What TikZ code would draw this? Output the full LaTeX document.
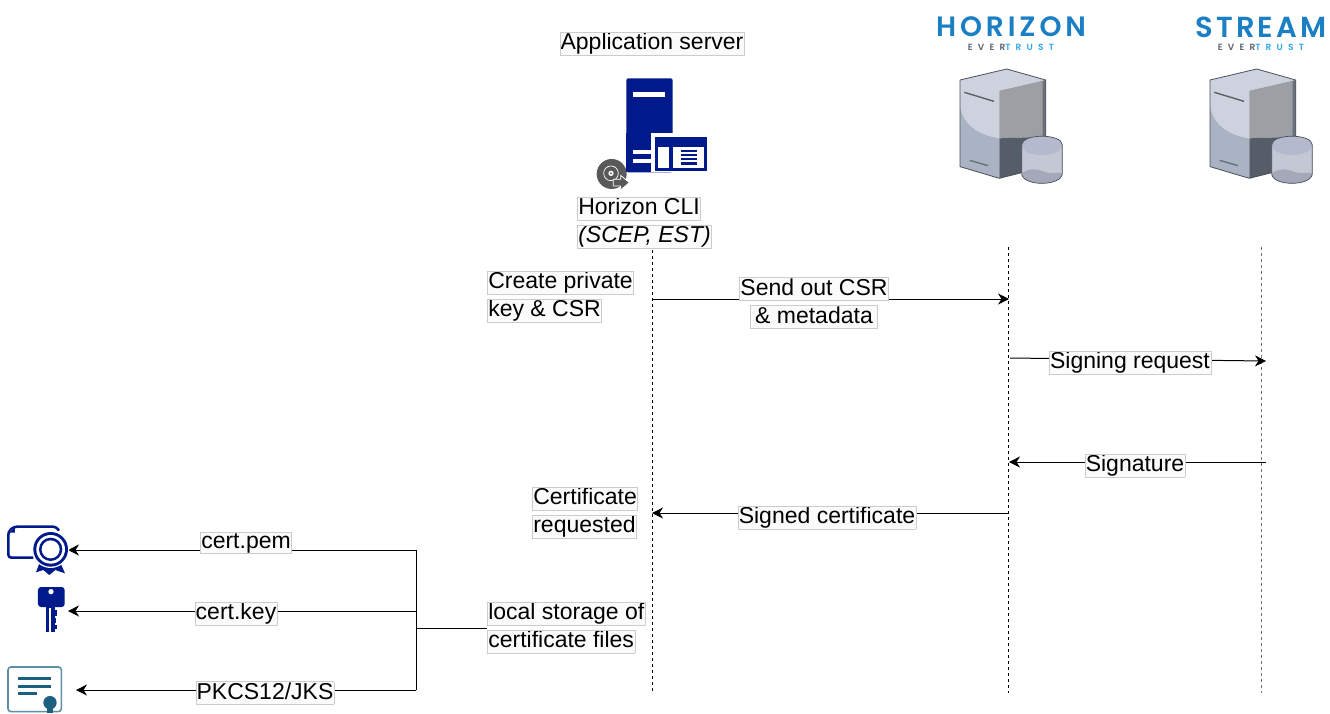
\documentclass[tikz,border=0pt]{standalone}
\usepackage{fontspec}
\usetikzlibrary{arrows.meta}
\setmainfont{Liberation Sans}
\newfontfamily\logofont[LetterSpace=14]{Poppins SemiBold}
\newfontfamily\logofontb[LetterSpace=11]{Poppins SemiBold}
\newfontfamily\subfont[LetterSpace=58]{Poppins SemiBold}
\definecolor{navy}{HTML}{001A8C}
\definecolor{logoblue}{HTML}{1B7FC4}
\definecolor{logolight}{HTML}{2FA8E8}
\definecolor{logogray}{HTML}{5A6570}
\definecolor{teal}{HTML}{1C5F80}
\definecolor{tealedge}{HTML}{5C8FA8}
\definecolor{lblfill}{HTML}{FBFBFB}
\definecolor{lbledge}{HTML}{CCCCCC}
\definecolor{sfront}{HTML}{A9B3C4}
\definecolor{slight}{HTML}{CDD2DE}
\definecolor{sside}{HTML}{9C9FA3}
\definecolor{sdark}{HTML}{555E68}
\definecolor{sstrip}{HTML}{6A7078}
\definecolor{sline}{HTML}{4A4F58}
\definecolor{sbar}{HTML}{5A6068}
\definecolor{cbody}{HTML}{C3C8D4}
\definecolor{ctop}{HTML}{B4B9CD}
\definecolor{cbot}{HTML}{A4A8B8}
\setlength{\fboxsep}{0.6pt}
\setlength{\fboxrule}{0.5pt}
\newcommand{\hl}[1]{\fcolorbox{lbledge}{lblfill}{\rule[-4.5pt]{0pt}{18.5pt}#1}}
\tikzset{
  x=1pt,y=-1pt,
  lbl/.style={inner sep=0pt,font=\fontsize{23}{28}\selectfont,align=left,text=black},
  life/.style={draw=black,line width=0.7pt,dash pattern=on 3pt off 3pt},
  lifegray/.style={life,draw=black!55,line width=0.9pt},
  msg/.style={draw=black,line width=1pt,-{Stealth[length=11pt,width=11pt,inset=3.5pt]}},
  plain/.style={draw=black,line width=1pt},
  server/.pic={
    \begin{scope}[x=0.3333pt,y=-0.3333pt]
      \fill[sfront] (180,240) -- (298,272) -- (298,535) -- (180,500) -- cycle;
      \fill[slight] (180,240) -- (298,272) -- (298,415) .. controls (230,405) and (190,370) .. (180,320) -- cycle;
      \fill[slight] (180,240) -- (320,207) -- (437,240) -- (298,272) -- cycle;
      \fill[sside] (298,272) -- (437,240) -- (437,410) -- (298,415) -- cycle;
      \fill[sdark] (298,415) -- (437,410) -- (437,500) -- (298,535) -- cycle;
      \fill[sstrip] (428,243) -- (437,240) -- (437,410) -- (428,410) -- cycle;
      \draw[line width=0.8pt,draw=sline,line join=round] (180,240) -- (320,207) -- (437,240) -- (437,500) -- (298,535) -- (180,500) -- cycle;
      \draw[line width=1.4pt,draw=sbar] (193,277) -- (282,304);
      \draw[line width=1.4pt,draw=sstrip] (209,481) -- (264,497);
      \fill[cbody] (365,435) .. controls (365,400) and (487,400) .. (487,435) -- (487,520) .. controls (487,560) and (365,560) .. (365,520) -- cycle;
      \fill[ctop] (365,435) .. controls (365,400) and (487,400) .. (487,435) .. controls (487,475) and (365,475) .. (365,435) -- cycle;
      \fill[cbot] (365,520) .. controls (390,500) and (420,510) .. (440,518) .. controls (460,522) and (480,515) .. (487,520) .. controls (487,560) and (365,560) .. (365,520) -- cycle;
      \draw[line width=0.7pt,draw=sline] (365,435) .. controls (365,400) and (487,400) .. (487,435) -- (487,520) .. controls (487,560) and (365,560) .. (365,520) -- cycle;
    \end{scope}
  }
}
\begin{document}
\begin{tikzpicture}
\useasboundingbox (0,0) rectangle (1330,713);
\fill[white] (0,0) rectangle (1330,713);

% titles
\node[lbl,anchor=center] (appserver) at (652,44) {\hl{Application server}};

% application server icon
\begin{scope}[shift={(550,0)},x=0.3333pt,y=-0.3333pt]
  \fill[navy,rounded corners=2pt] (229,235) rectangle (368,517);
  \fill[white] (250,276) rectangle (346,291);
  \fill[white] (304,400) rectangle (368,517);
  \fill[navy] (229,400) rectangle (304,517);
  \fill[white] (250,450) rectangle (304,463);
  \fill[white] (250,477) rectangle (304,490);
  \fill[navy] (316,410) rectangle (472,514);
  \fill[white] (325,440) rectangle (358,505);
  \fill[white] (368,440) rectangle (462,505);
  \fill[navy] (392,449) rectangle (441,457);
  \fill[navy] (392,461) rectangle (441,469);
  \fill[navy] (392,473) rectangle (441,481);
  \fill[navy] (392,485) rectangle (441,495);
  % CD glyph
  \fill[black!65] (185,522) circle[radius=45];
  \draw[white,line width=0.7pt] (183,520) circle[radius=22];
  \fill[white] (183,520) circle[radius=8];
  \fill[black!65] (183,520) circle[radius=3];
  \draw[white,fill=black!65,line width=0.8pt,line join=round] (190,538) -- (212,538) -- (212,526) -- (238,548) -- (212,570) -- (212,558) -- (190,558) -- cycle;
\end{scope}

\node[lbl,anchor=north west] (cli) at (577,197) {\hl{Horizon CLI}\\\hl{\itshape (SCEP, EST)}};

% logos
\node[inner sep=0pt,text=logoblue,font=\logofont\fontsize{28}{28}\selectfont] (horizon) at (1011,27) {HORIZON};
\node[inner sep=0pt,font=\subfont\fontsize{9}{9}\selectfont] (horizonsub) at (1011,47.5) {\textcolor{logogray}{EVER}\textcolor{logolight}{TRUST}};
\node[inner sep=0pt,text=logoblue,font=\logofontb\fontsize{29}{29}\selectfont] (stream) at (1261,27) {STREAM};
\node[inner sep=0pt,font=\subfont\fontsize{9}{9}\selectfont] (streamsub) at (1261,47.5) {\textcolor{logogray}{EVER}\textcolor{logolight}{TRUST}};

% servers
\pic at (900,0) {server};
\pic at (1150,0) {server};

% lifelines
\coordinate (a0) at (652,250); \coordinate (a1) at (652,693);
\coordinate (b0) at (1008,247); \coordinate (b1) at (1008,693);
\coordinate (c0) at (1261,247); \coordinate (c1) at (1261,693);
\draw[life] (a0) -- (a1);
\draw[life] (b0) -- (b1);
\draw[lifegray] (c0) -- (c1);

% messages
\coordinate (m1s) at (652,299); \coordinate (m1e) at (1009,299);
\coordinate (m2s) at (1010,358); \coordinate (m2e) at (1266,361);
\coordinate (m3s) at (1266,462); \coordinate (m3e) at (1009,462);
\coordinate (m4s) at (1008,513); \coordinate (m4e) at (652,513);
\draw[msg] (m1s) -- (m1e);
\draw[msg] (m2s) -- (m2e);
\draw[msg] (m3s) -- (m3e);
\draw[msg] (m4s) -- (m4e);

\node[lbl,align=center] (send) at (814,303) {\hl{Send out CSR}\\\hl{\,\& metadata\,}};
\node[lbl] (signreq) at (1130,363) {\hl{Signing request}};
\node[lbl] (sig) at (1135,465.5) {\hl{Signature}};
\node[lbl] (signed) at (827,517.5) {\hl{Signed certificate}};

% side notes
\node[lbl,anchor=north west] (create) at (487,271) {\hl{Create private}\\\hl{key \& CSR}};
\node[lbl,anchor=north west] (req) at (532,487) {\hl{Certificate}\\\hl{requested}};
\node[lbl,anchor=north west] (local) at (487,602) {\hl{local storage of}\\\hl{certificate files}};

% storage tree
\coordinate (t0) at (416,550); \coordinate (t1) at (416,611); \coordinate (t2) at (416,690); \coordinate (tm) at (416,628);
\coordinate (certend) at (68,550); \coordinate (keyend) at (68,611); \coordinate (pkend) at (76,690);
\draw[plain] (t0) -- (t2);
\draw[plain] (tm) -- (local.west |- tm);
\draw[msg] (t0) -- (certend);
\draw[msg] (t1) -- (keyend);
\draw[msg] (t2) -- (pkend);
\node[lbl] (certpem) at (246,543) {\hl{cert.pem}};
\node[lbl] (certkey) at (236,614) {\hl{cert.key}};
\node[lbl] (pkcs) at (265,693) {\hl{PKCS12/JKS}};

% certificate icon
\begin{scope}[shift={(0,510)},x=0.3333pt,y=-0.3333pt]
  \draw[navy,line width=2.6pt,line join=round,rounded corners=3pt] (100,143) -- (25,143) -- (25,65) -- (42,50) -- (168,50) -- (177,62);
  \fill[navy] (28,68) -- (45,53) -- (45,68) -- cycle;
  \fill[navy] (118,160) -- (108,187) -- (130,180) -- (148,195) -- (166,180) -- (195,190) -- (182,160) -- cycle;
  \fill[white] (152,118) circle[radius=56];
  \fill[navy] (152,118) circle[radius=52];
  \fill[white] (152,118) circle[radius=43];
  \fill[navy] (152,118) circle[radius=35];
  \fill[white] (152,118) circle[radius=27];
\end{scope}

% key icon
\begin{scope}[shift={(0,510)},x=0.3333pt,y=-0.3333pt]
  \fill[navy,rounded corners=3pt] (114,231) rectangle (194,291);
  \fill[navy] (137,280) rectangle (164,365);
  \fill[navy] (137,365) arc[start angle=180,end angle=360,x radius=13.5,y radius=13];
  \fill[navy] (160,300) rectangle (172,318);
  \fill[navy] (160,325) rectangle (169,340);
  \fill[navy] (160,345) rectangle (172,358);
  \fill[white] (153,245) circle[radius=8];
  \fill[white] (146,294) rectangle (152,366);
\end{scope}

% document icon
\begin{scope}[shift={(0,510)},x=0.3333pt,y=-0.3333pt]
  \draw[tealedge,line width=1.6pt,rounded corners=3pt] (24,471) rectangle (184,605);
  \fill[teal] (54,502) rectangle (154,511);
  \fill[teal] (54,524) rectangle (154,533);
  \fill[teal] (54,546) rectangle (110,555);
  \fill[white] (150,578) circle[radius=25];
  \fill[teal] (150,578) circle[radius=20];
  \fill[teal] (140,590) rectangle (160,609);
\end{scope}
\end{tikzpicture}
\end{document}
